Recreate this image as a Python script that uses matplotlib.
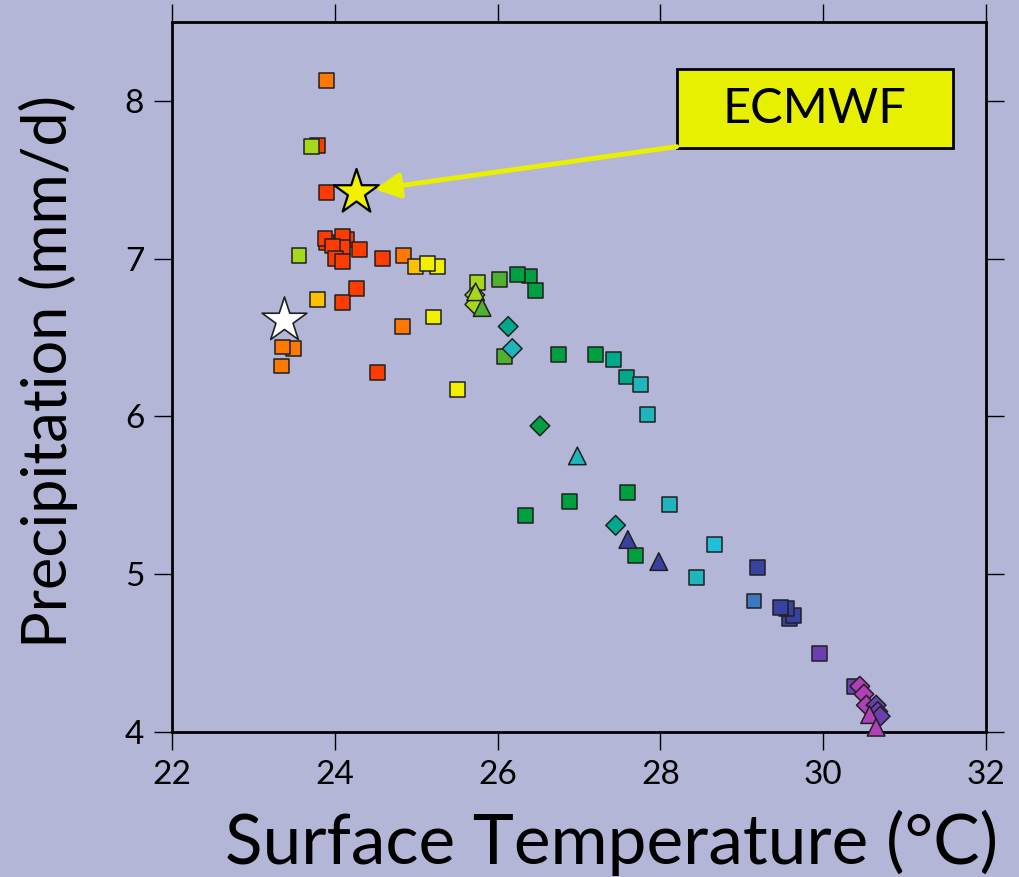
import matplotlib
matplotlib.use("Agg")
import matplotlib.pyplot as plt
from matplotlib.patches import Rectangle

# ---------------- colours ----------------
RED = "#ff3c00"
ORANGE = "#ff7800"
GOLD = "#ffc000"
YELLOW = "#f0f000"
YGREEN = "#a8d81c"
GREEN = "#50b030"
DGREEN = "#00a040"
TEAL = "#00a88c"
CTEAL = "#20b4bc"
CYAN = "#20c0dc"
STEEL = "#3a78c0"
DBLUE = "#3840a0"
VIOLET = "#6a40b0"
MAGENTA = "#b040b8"

# ---------------- data ----------------
sq_x = [23.90, 23.79, 23.71, 23.90, 23.56, 23.90, 23.88, 24.15, 24.10, 24.09,
        23.97, 24.30, 24.01, 24.10, 24.59, 24.27, 24.09, 23.79, 24.84, 25.26,
        24.99, 25.14, 24.83, 25.21, 24.52, 25.51, 23.49, 23.36, 23.35, 25.75,
        26.02, 26.39, 26.24, 26.47, 26.08, 26.75, 27.20, 27.42, 27.58, 27.76,
        27.84, 26.88, 26.34, 27.60, 28.11, 27.69, 28.67, 28.44, 29.19, 29.15,
        29.59, 29.63, 29.55, 29.47, 29.95, 30.39]
sq_y = [8.13, 7.72, 7.71, 7.42, 7.02, 7.10, 7.13, 7.12, 7.14, 7.07,
        7.08, 7.06, 7.00, 6.98, 7.00, 6.81, 6.72, 6.74, 7.02, 6.95,
        6.95, 6.97, 6.57, 6.63, 6.28, 6.17, 6.43, 6.44, 6.32, 6.85,
        6.87, 6.89, 6.90, 6.80, 6.38, 6.39, 6.39, 6.36, 6.25, 6.20,
        6.01, 5.46, 5.37, 5.52, 5.44, 5.12, 5.19, 4.98, 5.04, 4.83,
        4.72, 4.74, 4.78, 4.79, 4.50, 4.29]
sq_c = [ORANGE, RED, YGREEN, RED, YGREEN, RED, RED, RED, RED, RED,
        RED, RED, RED, RED, RED, RED, RED, GOLD, ORANGE, YELLOW,
        GOLD, YELLOW, ORANGE, YELLOW, RED, YELLOW, ORANGE, ORANGE, ORANGE, YGREEN,
        GREEN, DGREEN, DGREEN, DGREEN, GREEN, DGREEN, DGREEN, TEAL, TEAL, CTEAL,
        CTEAL, DGREEN, DGREEN, DGREEN, CTEAL, DGREEN, CYAN, CTEAL, DBLUE, STEEL,
        DBLUE, DBLUE, DBLUE, DBLUE, VIOLET, VIOLET]

dia_x = [25.72, 25.72, 26.13, 26.18, 26.52, 27.45, 30.45, 30.50, 30.53, 30.65, 30.67, 30.70]
dia_y = [6.77, 6.71, 6.57, 6.43, 5.94, 5.31, 4.29, 4.24, 4.17, 4.17, 4.13, 4.10]
dia_c = [YGREEN, YGREEN, TEAL, CTEAL, DGREEN, TEAL, MAGENTA, MAGENTA, MAGENTA, VIOLET, VIOLET, VIOLET]

tri_x = [25.73, 25.81, 26.98, 27.60, 27.98, 30.57, 30.65]
tri_y = [6.79, 6.69, 5.75, 5.22, 5.08, 4.11, 4.03]
tri_c = [YGREEN, GREEN, CTEAL, DBLUE, DBLUE, MAGENTA, MAGENTA]

obs_x, obs_y = [23.38], [6.61]          # white star
ecmwf_x, ecmwf_y = [24.26], [7.42]      # yellow star

x_ticks = [22, 24, 26, 28, 30, 32]
y_ticks = [4, 5, 6, 7, 8]

BG = "#b4b6d8"
FONT = "Lato"

W, H = 1020, 877
fig = plt.figure(figsize=(W / 100, H / 100), dpi=100, facecolor=BG)
ax = fig.add_axes([172 / W, 1 - 732 / H, (986 - 172) / W, (732 - 22) / H])
ax.set_facecolor(BG)
ax.set_xlim(22, 32)
ax.set_ylim(4, 8.5)

for s in ax.spines.values():
    s.set_linewidth(2)
    s.set_color("black")

ax.set_xticks(x_ticks)
ax.set_yticks(y_ticks)
ax.tick_params(direction="out", length=13, width=1, top=True, right=True,
               labelsize=24, pad=7)
for lab in ax.get_xticklabels() + ax.get_yticklabels():
    lab.set_fontfamily(FONT)

ax.scatter(sq_x, sq_y, c=sq_c, marker="s", s=115, edgecolors="#202020",
           linewidths=1.1, zorder=3)
ax.scatter(dia_x, dia_y, c=dia_c, marker="D", s=100, edgecolors="#202020",
           linewidths=1.1, zorder=4)
ax.scatter(tri_x, tri_y, c=tri_c, marker="^", s=160, edgecolors="#202020",
           linewidths=1.1, zorder=5, clip_on=False)
ax.scatter(obs_x, obs_y, c="white", marker="*", s=1150, edgecolors="#202020",
           linewidths=1.2, zorder=6)
ax.scatter(ecmwf_x, ecmwf_y, c="#f0f000", marker="*", s=1150, edgecolors="black",
           linewidths=1.6, zorder=6)

# ECMWF label box and arrow
bx0, by0, bx1, by1 = 28.20, 7.70, 31.59, 8.20
ax.add_patch(Rectangle((bx0, by0), bx1 - bx0, by1 - by0, facecolor="#e6f000",
                       edgecolor="black", linewidth=2, zorder=7, clip_on=False))
ax.text((bx0 + bx1) / 2, (by0 + by1) / 2, "ECMWF", fontsize=35, family=FONT,
        ha="center", va="center", zorder=8)
ax.annotate("", xy=(24.49, 7.44), xytext=(bx0, by0 + 0.01),
            arrowprops=dict(arrowstyle="-|>", color="#e8f000", lw=3.5,
                            mutation_scale=38, shrinkA=0, shrinkB=0),
            zorder=7)

fig.text(612 / W, 1 - 843 / H, "Surface Temperature (°C)", fontsize=50,
         family=FONT, ha="center", va="center")
fig.text(48 / W, 1 - 372 / H, "Precipitation (mm/d)", fontsize=44,
         family=FONT, ha="center", va="center", rotation=90)

fig.savefig("out.png", dpi=100, facecolor=BG)
